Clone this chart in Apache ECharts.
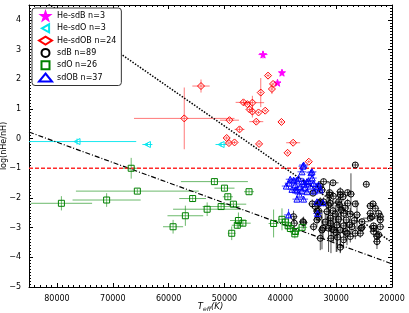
<!DOCTYPE html>
<html><head><meta charset="utf-8">
<script src="https://cdn.jsdelivr.net/npm/echarts@6/dist/echarts.min.js"></script>
<style>html,body{margin:0;padding:0;background:#fff}
#wrap{position:relative;width:409px;height:313px}
#c,#l{position:absolute;left:0;top:0;width:409px;height:313px}
#l{pointer-events:none}</style>
</head><body><div id="wrap"><div id="c"></div><div id="l"></div></div>
<script>
// ---- data ----
var heSdB_teff = [43100, 39700, 40500];
var heSdB_log  = [2.83, 2.22, 1.88];
var heSdB_terr = [800, 450, 300];
var heSdB_lerr = [0.13, 0.08, 0.05];

var heSdO_teff = [76400, 63800, 50600];
var heSdO_log  = [-0.10, -0.20, -0.20];
var heSdO_terr = [10600, 900, 1000];
var heSdO_lerr = [0.10, 0.05, 0.08];

var heSdOB_teff = [54200, 42200, 41300, 41500, 43500, 46600, 45000, 45500, 45000, 43900, 42700, 44300, 39800, 49100, 47300, 49600, 49200, 48200, 43800, 37700, 38700, 34900, 57200, 45900];
var heSdOB_log  = [1.77, 2.12, 1.84, 1.67, 1.55, 1.22, 1.21, 0.98, 0.91, 0.88, 0.94, 0.57, 0.56, 0.62, 0.31, 0.02, -0.15, -0.13, -0.18, -0.14, -0.48, -0.78, 0.68, 1.16];
var heSdOB_terr = [1550, 300, 300, 300, 300, 1400, 2100, 500, 400, 300, 300, 1250, 300, 1700, 900, 400, 400, 400, 400, 1250, 300, 300, 9000, 500];
var heSdOB_lerr = [0.22, 0.05, 0.05, 0.17, 0.49, 0.08, 0.23, 0.06, 0.2, 0.05, 0.05, 0.06, 0.05, 0.05, 0.08, 0.06, 0.06, 0.05, 0.05, 0.05, 0.05, 0.05, 1.04, 0.05];

var sdB_teff = [26570, 24600, 32250, 30570, 32840, 34150, 32540, 31180, 29260, 27950, 27350, 28780, 32970, 31360, 29390, 27950, 26570, 23400, 22990, 33150, 31640, 30570, 28670, 27470, 26270, 23890, 22100, 37630, 35940, 33430, 31050, 29570, 28190, 26750, 31050, 29850, 28670, 27600, 25380, 23300, 32540, 30750, 29260, 28370, 23300, 32840, 30930, 29750, 27470, 25680, 22400, 22690, 29260, 31360, 29980, 33430, 33150, 34040, 32360, 35830, 37500, 30460, 28670, 28060, 27170, 25380, 23890, 23580, 25550, 26570, 33740, 32840, 31050, 29260, 31180, 29570, 32250, 23890, 22400, 22100, 23300, 22100, 22690, 30160, 31950, 29080, 28370, 30510, 34280];
var sdB_log  = [-0.89, -1.54, -1.45, -1.49, -1.60, -1.84, -1.73, -1.82, -1.79, -1.82, -1.87, -1.96, -2.18, -2.24, -2.24, -2.18, -2.20, -2.20, -2.35, -2.43, -2.46, -2.43, -2.52, -2.54, -2.57, -2.68, -2.63, -2.63, -2.80, -2.74, -2.68, -2.72, -2.74, -2.76, -2.85, -2.91, -2.94, -2.91, -2.99, -2.94, -3.08, -3.05, -3.08, -3.13, -3.13, -3.36, -3.36, -3.32, -3.30, -3.19, -3.24, -3.47, -3.66, -3.02, -3.17, -2.44, -2.65, -2.97, -3.02, -2.83, -2.85, -3.08, -3.41, -3.19, -2.97, -2.80, -2.27, -2.63, -3.02, -3.19, -2.29, -2.13, -2.18, -1.90, -1.90, -2.13, -2.13, -2.52, -2.52, -2.74, -3.02, -2.97, -3.30, -2.54, -2.81, -2.40, -2.34, -1.94, -2.20];
var sdB_terr = [600, 600, 1000, 1000, 700, 700, 700, 700, 700, 700, 700, 700, 700, 700, 700, 700, 700, 700, 700, 700, 700, 700, 700, 700, 700, 1300, 700, 700, 700, 700, 700, 700, 700, 700, 700, 700, 700, 700, 700, 700, 700, 700, 700, 700, 700, 700, 700, 700, 700, 700, 700, 700, 700, 700, 700, 700, 700, 700, 700, 700, 700, 700, 700, 700, 700, 1300, 700, 700, 700, 700, 700, 700, 700, 700, 700, 700, 700, 700, 700, 700, 700, 700, 700, 700, 700, 700, 700, 700, 700];
var sdB_lerr = [0.1, 0.1, 0.1, 0.1, 0.15, 0.1, 0.15, 0.3, 0.15, 0.1, 0.7, 0.15, 0.15, 0.5, 0.2, 0.15, 0.1, 0.1, 0.1, 0.2, 0.6, 0.3, 0.2, 0.2, 0.5, 0.1, 0.1, 0.2, 0.15, 0.2, 0.3, 0.2, 0.2, 0.15, 0.2, 0.9, 0.2, 0.2, 0.1, 0.1, 0.65, 0.4, 0.75, 0.3, 0.15, 0.4, 0.5, 0.3, 0.2, 0.15, 0.15, 0.25, 0.2, 0.8, 0.65, 0.3, 0.2, 0.15, 0.3, 0.2, 0.25, 0.4, 0.3, 0.4, 0.2, 0.1, 0.1, 0.1, 0.1, 0.2, 0.2, 0.15, 0.15, 0.15, 0.15, 0.2, 0.15, 0.1, 0.1, 0.1, 0.1, 0.1, 0.3, 0.3, 0.3, 0.3, 0.2, 0.15, 0.15];

var sdO_teff = [66700, 79200, 71100, 65600, 51800, 50000, 45600, 55700, 49400, 48400, 50600, 53100, 57000, 59200, 47500, 46700, 47700, 48700, 41200, 39700, 39100, 38200, 37300, 37400, 36100, 38600];
var sdO_log  = [-1.00, -2.18, -2.07, -1.77, -1.45, -1.67, -1.79, -2.02, -1.96, -2.21, -2.29, -2.38, -2.60, -2.97, -2.76, -2.85, -2.92, -3.19, -2.86, -2.72, -2.81, -3.03, -3.13, -3.21, -2.99, -2.94];
var sdO_terr = [1500, 5500, 6100, 11000, 6000, 1800, 900, 2400, 900, 2300, 3300, 6100, 3200, 1800, 1500, 1400, 1000, 700, 900, 700, 700, 900, 900, 600, 900, 600];
var sdO_lerr = [0.35, 0.24, 0.23, 0.08, 0.1, 0.08, 0.08, 0.1, 0.1, 0.08, 0.08, 0.23, 0.34, 0.23, 0.27, 0.1, 0.1, 0.23, 0.47, 0.37, 0.1, 0.15, 0.1, 0.15, 0.1, 0.1];

var sdOB_teff = [35830, 36120, 34510, 38220, 37620, 36730, 35830, 34940, 34040, 33150, 37320, 36430, 35530, 34630, 37910, 37020, 36120, 35230, 37020, 35830, 33430, 32360, 33330, 38520, 34330, 37020, 35230, 33430, 37320, 38400, 35940, 34280, 38930, 32840, 36600, 35710, 33920];
var sdOB_log  = [-0.89, -1.12, -1.15, -1.37, -1.40, -1.34, -1.45, -1.42, -1.51, -1.56, -1.56, -1.62, -1.64, -1.60, -1.71, -1.73, -1.76, -1.79, -2.04, -2.04, -2.13, -2.16, -2.52, -2.57, -1.12, -1.40, -1.45, -1.62, -1.73, -1.50, -0.93, -1.33, -1.60, -1.73, -1.87, -1.53, -1.77];
var sdOB_terr = [800, 800, 800, 800, 800, 800, 800, 800, 800, 800, 800, 800, 800, 800, 800, 800, 800, 800, 800, 800, 800, 800, 800, 800, 800, 800, 800, 800, 800, 800, 800, 800, 800, 800, 800, 800, 800];
var sdOB_lerr = [0.08, 0.08, 0.08, 0.08, 0.08, 0.08, 0.08, 0.08, 0.08, 0.08, 0.08, 0.08, 0.08, 0.08, 0.08, 0.08, 0.08, 0.08, 0.08, 0.08, 0.08, 0.08, 0.1, 0.2, 0.08, 0.08, 0.08, 0.08, 0.08, 0.08, 0.08, 0.08, 0.08, 0.08, 0.08, 0.08, 0.08];

var dottedLine  = [[85000, 5.0], [20000, -3.5]];
var dashDotLine = [[85000, 0.22], [20000, -4.22]];
var limitLine   = [[85000, -1.0], [20000, -1.0]];

var xTicks = {min: 20000, max: 85000, interval: 10000};
var yTicks = {min: -5, max: 4.5, interval: 1};

// ---- chart ----
var FONT = 'DejaVu Sans';
function zip(t, l, te, le) { return t.map(function (v, i) { return [v, l[i], te[i], le[i]]; }); }

function errSeries(name, data, color, opacity) {
  return {
    type: 'custom', name: name + ' err', silent: true, z: 1, clip: true,
    encode: {x: 0, y: 1},
    renderItem: function (params, api) {
      var x = api.value(0), y = api.value(1), xe = api.value(2), ye = api.value(3);
      var st = {stroke: color, lineWidth: 1, opacity: opacity};
      var a = api.coord([x - xe, y]), b = api.coord([x + xe, y]);
      var c = api.coord([x, y - ye]), d = api.coord([x, y + ye]);
      return {type: 'group', children: [
        {type: 'line', shape: {x1: a[0], y1: a[1], x2: b[0], y2: b[1]}, style: st},
        {type: 'line', shape: {x1: c[0], y1: c[1], x2: d[0], y2: d[1]}, style: st}
      ]};
    },
    data: data
  };
}
function markSeries(name, data, symbol, color, filled, size) {
  return {
    type: 'scatter', name: name, z: 3, symbol: symbol, symbolSize: size,
    itemStyle: {color: filled ? color : 'rgba(255,255,255,0)', borderColor: color, borderWidth: 1, opacity: 1},
    data: data.map(function (d) { return [d[0], d[1]]; })
  };
}
function lineSeries(data, color, type, width) {
  return {type: 'line', data: data, showSymbol: false, silent: true, z: 2,
    lineStyle: {color: color, width: width, type: type}};
}

var starPath = 'path://M0,-10 L2.35,-3.24 9.51,-3.09 3.8,1.24 5.88,8.09 0,4 -5.88,8.09 -3.8,1.24 -9.51,-3.09 -2.35,-3.24 Z';
var leftTri = 'path://M0,5 L9,0 L9,10 Z';
var square = 'path://M0,0 L10,0 L10,10 L0,10 Z';

var dHeSdB = zip(heSdB_teff, heSdB_log, heSdB_terr, heSdB_lerr);
var dHeSdO = zip(heSdO_teff, heSdO_log, heSdO_terr, heSdO_lerr);
var dHeSdOB = zip(heSdOB_teff, heSdOB_log, heSdOB_terr, heSdOB_lerr);
var dSdB = zip(sdB_teff, sdB_log, sdB_terr, sdB_lerr);
var dSdO = zip(sdO_teff, sdO_log, sdO_terr, sdO_lerr);
var dSdOB = zip(sdOB_teff, sdOB_log, sdOB_terr, sdOB_lerr);

var names = ['He-sdB n=3', 'He-sdO n=3', 'He-sdOB n=24', 'sdB n=89', 'sdO n=26', 'sdOB n=37'];

function axisCommon(ticks, extra) {
  var o = {
    type: 'value', min: ticks.min, max: ticks.max, interval: ticks.interval,
    nameMoveOverlap: false,
    axisLine: {show: true, onZero: false, lineStyle: {color: '#000', width: 1}},
    axisTick: {show: true, inside: true, length: 4, lineStyle: {color: '#000', width: 1}},
    minorTick: {show: true, splitNumber: 10, length: 2, lineStyle: {color: '#000', width: 1}},
    splitLine: {show: false},
    axisLabel: {show: true, color: '#000', fontFamily: FONT, fontSize: 8, showMaxLabel: false,
      formatter: function (v) { return String(v).replace('-', '\u2212'); }}
  };
  for (var k in extra) o[k] = extra[k];
  return o;
}

function seriesMarks() {
  return [
    markSeries(names[0], dHeSdB, starPath, '#ff00ff', true, 7),
    markSeries(names[1], dHeSdO, leftTri, '#00e5ee', false, 6),
    markSeries(names[2], dHeSdOB, 'diamond', '#ff0000', false, 7),
    markSeries(names[3], dSdB, 'circle', '#000000', false, 6),
    markSeries(names[4], dSdO, square, '#008000', false, 6),
    markSeries(names[5], dSdOB, 'triangle', '#0000ff', false, 6)
  ];
}

var chart = echarts.init(document.getElementById('c'), null, {renderer: 'canvas'});
chart.setOption({
  animation: false,
  backgroundColor: '#fff',
  grid: {left: 29, right: 17, top: 5, bottom: 26, outerBoundsMode: 'none'},
  xAxis: [
    axisCommon(xTicks, {inverse: true, position: 'bottom',
      name: '{i|T}{s|eff}{i|(K)}', nameLocation: 'middle', nameGap: 14,
      nameTextStyle: {rich: {
        i: {fontFamily: FONT, fontStyle: 'italic', fontSize: 8.5, color: '#000'},
        s: {fontFamily: FONT, fontStyle: 'italic', fontSize: 6, color: '#000', padding: [5, 0, 0, 0]}
      }}}),
    axisCommon(xTicks, {inverse: true, position: 'top', axisLabel: {show: false}})
  ],
  yAxis: [
    axisCommon(yTicks, {position: 'left', name: 'log(nHe/nH)', nameLocation: 'middle', nameGap: 21,
      nameTextStyle: {fontFamily: FONT, fontSize: 8, color: '#000'}}),
    axisCommon(yTicks, {position: 'right', axisLabel: {show: false}})
  ],
  series: [
    errSeries('He-sdB', dHeSdB, '#ff00ff', 0.9),
    errSeries('He-sdO', dHeSdO, '#00e5ee', 0.9),
    errSeries('He-sdOB', dHeSdOB, '#ff2020', 0.6),
    errSeries('sdB', dSdB, '#000000', 0.7),
    errSeries('sdO', dSdO, '#0a8a0a', 0.6),
    errSeries('sdOB', dSdOB, '#0000ff', 0.7),
    lineSeries(dottedLine, '#000', [1.5, 1.5], 1.5),
    lineSeries(dashDotLine, '#000', [5, 2, 1, 2], 1.2),
    lineSeries(limitLine, '#ff2a2a', [4, 2], 1.5)
  ].concat(seriesMarks())
});

// legend drawn by a second, transparent ECharts layer (same series definitions, same size)
var legendChart = echarts.init(document.getElementById('l'), null, {renderer: 'canvas'});
legendChart.setOption({
  animation: false,
  backgroundColor: 'transparent',
  grid: {left: 29, right: 17, top: 5, bottom: 26, show: false},
  xAxis: {type: 'value', show: false, min: xTicks.min, max: xTicks.max, inverse: true},
  yAxis: {type: 'value', show: false, min: yTicks.min, max: yTicks.max},
  legend: {
    data: names, orient: 'vertical', left: 32, top: 8,
    padding: [3, 5, 3, 6], itemGap: 2.3, itemWidth: 13, itemHeight: 8,
    borderColor: '#333', borderWidth: 1, borderRadius: 3, backgroundColor: '#fff',
    textStyle: {fontFamily: FONT, fontSize: 8, color: '#000', lineHeight: 9}
  },
  series: seriesMarks().map(function (s) { s.data = []; return s; })
});
</script></body></html>
